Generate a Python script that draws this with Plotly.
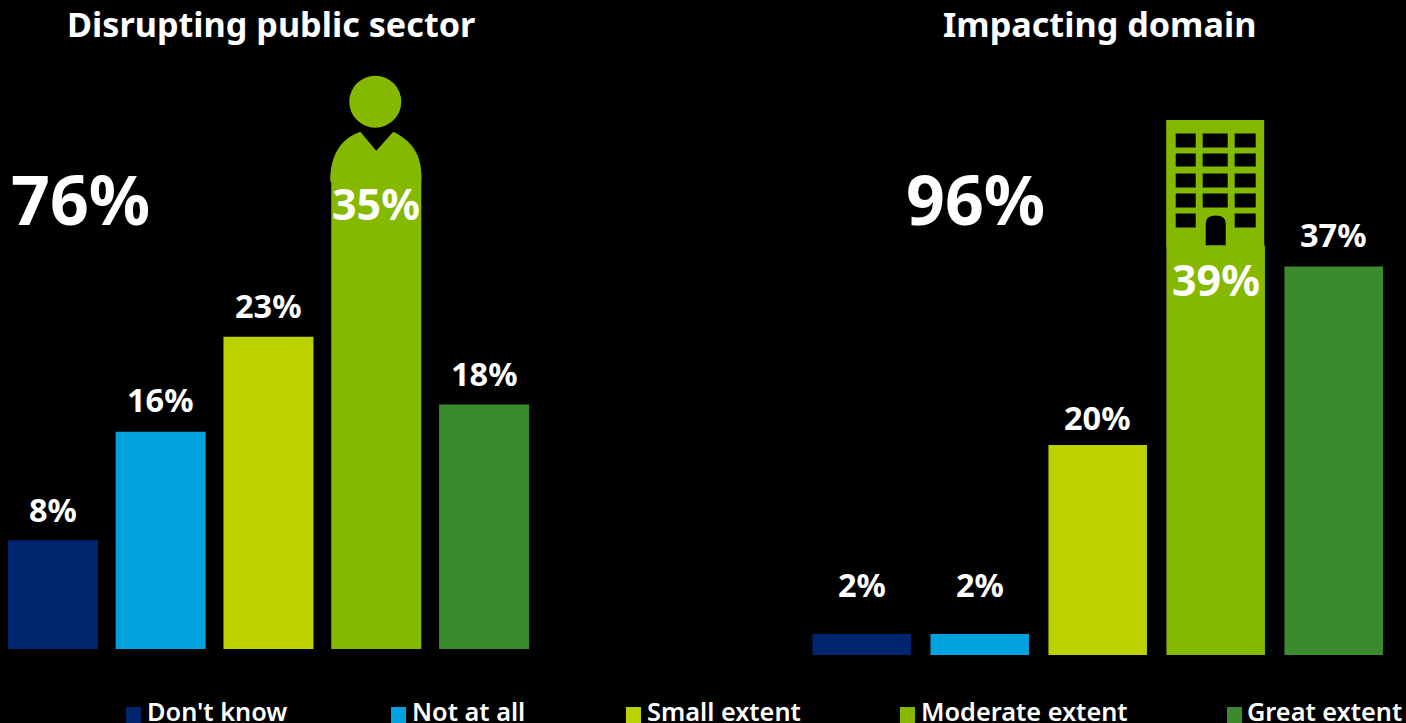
import plotly.graph_objects as go

W, H = 1406, 723

categories = ["Don't know", "Not at all", "Small extent", "Moderate extent", "Great extent"]
colors = ["#00256F", "#00A3E0", "#BBD200", "#84B900", "#3C8A2E"]
public_sector = [8, 16, 23, 35, 18]
domain_impact = [2, 2, 20, 39, 37]
public_total = "76%"
domain_total = "96%"
public_title = "Disrupting public sector"
domain_title = "Impacting domain"

# Vertical distance of each value label from its bar top, in pixels
public_label_shift = [31, 32, 31, -30, 31]
domain_label_shift = [50, 50, 28, -34, 32]

legend_square_x = [126, 391, 626, 900, 1227]
legend_text_x = [145, 410, 645, 919, 1245]

FONT = "Noto Sans"
WHITE = "#FFFFFF"


def px(x):
    return x / W


def py(y):
    return 1 - y / H


def rect(x0, y0, x1, y1):
    return f"M{x0},{y0} L{x1},{y0} L{x1},{y1} L{x0},{y1} Z"


def paper_text(text, x, y, size, anchor="center", weight=700):
    return dict(
        text=text, xref="paper", yref="paper", x=px(x), y=py(y),
        xanchor=anchor, yanchor="middle", showarrow=False,
        font=dict(family=FONT, size=size, color=WHITE, weight=weight),
    )


fig = go.Figure()
fig.add_bar(x=categories, y=public_sector, marker=dict(color=colors, line_width=0),
            xaxis="x", yaxis="y", showlegend=False)
fig.add_bar(x=categories, y=domain_impact, marker=dict(color=colors, line_width=0),
            xaxis="x2", yaxis="y2", showlegend=False)

annotations = [
    paper_text(public_title, 271, 24, 34.2),
    paper_text(domain_title, 1099.5, 24, 34.2),
    paper_text(public_total, 9, 198, 68, "left", 700),
    paper_text(domain_total, 904, 198, 68, "left", 700),
]

for axes, values, shifts in (
    (("x", "y"), public_sector, public_label_shift),
    (("x2", "y2"), domain_impact, domain_label_shift),
):
    for i, (cat, val, shift) in enumerate(zip(categories, values, shifts)):
        emphasised = i == 3
        annotations.append(dict(
            text=f"{val}%", x=cat, y=val, xref=axes[0], yref=axes[1],
            yshift=shift, showarrow=False, xanchor="center", yanchor="middle",
            font=dict(family=FONT, size=43 if emphasised else 32.5, color=WHITE, weight=700),
        ))

shapes = []

# Person pictogram, anchored on top of the moderate-extent bar
person_cat, person_val = categories[3], public_sector[3]
shapes.append(dict(
    type="path", xref="x", yref="y", xsizemode="pixel", ysizemode="pixel",
    xanchor=person_cat, yanchor=person_val,
    path="M-46,-8 C-46,20 -35,35 -16,42 L0,23 L17,42 C34,34 45,20 45,0 L45,-8 Z",
    fillcolor=colors[3], line_width=0, layer="below",
))
shapes.append(dict(
    type="circle", xref="x", yref="y", xsizemode="pixel", ysizemode="pixel",
    xanchor=person_cat, yanchor=person_val, x0=-27, x1=25, y0=46, y1=98,
    fillcolor=colors[3], line_width=0, layer="below",
))

# Office block pictogram standing on the moderate-extent bar
block_cat, block_val = categories[3], domain_impact[3]
col_edges = [(-40, -20), (-13, 12), (19, 40)]
row_edges = [(112, 98), (92, 79), (72, 58), (52, 38), (32, 18)]
block = rect(-49.5, 125.5, 48.5, -1)
for r, (top, bottom) in enumerate(row_edges):
    for c, (left, right) in enumerate(col_edges):
        if r == 4 and c == 1:
            continue
        block += " " + rect(left, top, right, bottom)
block += " M-10,0 L-10,22 Q-10,30 0,30 Q10,30 10,22 L10,0 Z"
shapes.append(dict(
    type="path", xref="x2", yref="y2", xsizemode="pixel", ysizemode="pixel",
    xanchor=block_cat, yanchor=block_val, path=block, fillrule="evenodd",
    fillcolor=colors[3], line_width=0, layer="above",
))

# Shared legend along the bottom edge
for name, color, sq_x, txt_x in zip(categories, colors, legend_square_x, legend_text_x):
    shapes.append(dict(
        type="rect", xref="paper", yref="paper",
        x0=px(sq_x), x1=px(sq_x + 15), y0=py(723), y1=py(707),
        fillcolor=color, line_width=0,
    ))
    annotations.append(paper_text(name, txt_x, 711, 25.3, "left", 600))

hidden = dict(visible=False, fixedrange=True)
fig.update_layout(
    width=W, height=H,
    margin=dict(l=0, r=0, t=0, b=0),
    paper_bgcolor="#000000", plot_bgcolor="#000000",
    barmode="group", bargap=0.165,
    xaxis=dict(hidden, domain=[0, px(538)], range=[-0.49, 4.5],
               type="category", categoryorder="array", categoryarray=categories),
    yaxis=dict(hidden, domain=[py(649), 1], range=[0, 649 / 13.58]),
    xaxis2=dict(hidden, domain=[px(802.7), px(1392.7)], range=[-0.5, 4.5],
                type="category", categoryorder="array", categoryarray=categories),
    yaxis2=dict(hidden, domain=[py(655), 1], range=[0, 655 / 10.5]),
    annotations=annotations,
    shapes=shapes,
)

fig.write_html("out.html", config=dict(displayModeBar=False))
